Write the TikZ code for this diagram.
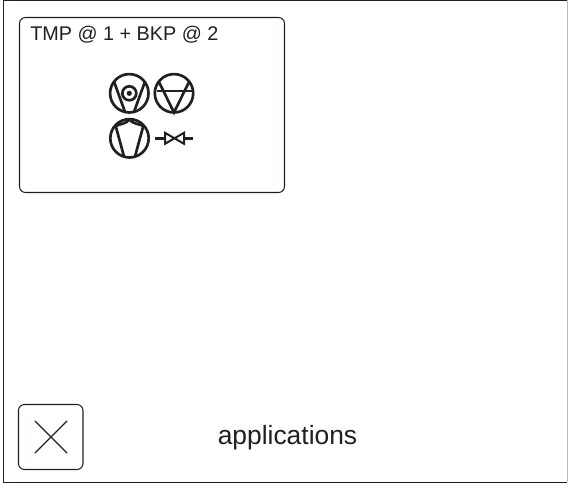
\documentclass[tikz,border=0pt]{standalone}
\usepackage{fontspec}
\setmainfont{Liberation Sans}
\definecolor{ink}{HTML}{231F20}
\tikzset{
  px/.style={x=0.75pt,y=-0.75pt},
  frameline/.style={draw=ink,line width=0.95pt},
  panel/.style={draw=ink,line width=0.8pt,rounded corners=4.5pt},
  sym/.style={draw=ink,line width=2pt,line cap=butt},
  lab/.style={text=ink,font=\fontsize{14.85pt}{16pt}\selectfont,inner sep=0pt}
}
\begin{document}
\begin{tikzpicture}[px]
\useasboundingbox (0,0) rectangle (568,484);
\fill[white] (0,0) rectangle (568,484);
% outer frame
\draw[frameline] (3.5,0.4) -- (3.5,482.3) -- (566.8,482.3);
\draw[frameline] (3.5,0.4) -- (566.8,0.4);
\draw[draw=ink!30,line width=0.75pt] (567.2,0.4) -- (567.2,482.3);
% panels
\draw[panel] (19.5,17.5) rectangle (284.5,192.5);
\draw[panel] (18.5,404.5) rectangle (83,469.5);
\draw[draw=ink,line width=1pt,line cap=round] (35,421) -- (67,453) (67,421) -- (35,453);
\node[lab,anchor=base west] (title) at (30,41) {TMP @ 1 + BKP @ 2};
\node[lab,anchor=base,font=\fontsize{19.8pt}{22pt}\selectfont] (apps) at (287.5,444.5) {applications};
% turbo pump
\draw[sym] (129.3,93.3) circle (19.2);
\draw[sym] (129.3,93.3) circle (7);
\fill[ink] (129.3,93.3) circle (2.6);
\draw[sym] (114,81.5) -- (125,112);
\draw[sym] (145,81.5) -- (134,112);
% backing pump
\draw[sym] (174,93.3) circle (19.2);
\draw[sym] (159,82) -- (174,112.5) -- (189,82);
\draw[sym] (156.5,91) -- (191.5,91);
% scroll pump
\draw[sym] (129.5,138.3) circle (19.2);
\draw[sym,line join=round] (129.5,119.5) .. controls (126,124) and (121,123.5) .. (115.7,126) -- (124,156.5);
\draw[sym,line join=round] (129.5,119.5) .. controls (133,124) and (138,123.5) .. (143.3,126) -- (135,156.5);
% valve
\draw[draw=ink,line width=2pt] (155,138.3) -- (166,138.3) (184,138.3) -- (193,138.3);
\draw[draw=ink,line width=1.5pt,line join=miter] (165,132.8) -- (174.5,138.3) -- (165,143.8) -- cycle;
\draw[draw=ink,line width=1.5pt,line join=miter] (184,132.8) -- (174.5,138.3) -- (184,143.8) -- cycle;
\end{tikzpicture}
\end{document}
